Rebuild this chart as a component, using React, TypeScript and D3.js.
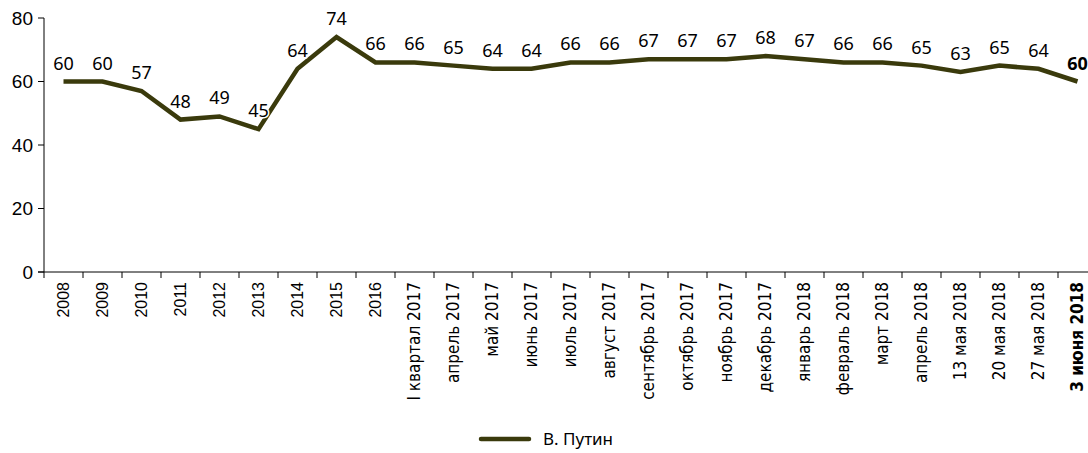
import React from "react";
import * as d3 from "d3";

const categories: string[] = [
  "2008", "2009", "2010", "2011", "2012", "2013", "2014", "2015", "2016",
  "I квартал 2017", "апрель 2017", "май 2017", "июнь 2017", "июль 2017", "август 2017",
  "сентябрь 2017", "октябрь 2017", "ноябрь 2017", "декабрь 2017",
  "январь 2018", "февраль 2018", "март 2018", "апрель 2018",
  "13 мая 2018", "20 мая 2018", "27 мая 2018", "3 июня 2018",
];
const values: number[] = [
  60, 60, 57, 48, 49, 45, 64, 74, 66,
  66, 65, 64, 64, 66, 66, 67, 67, 67, 68,
  67, 66, 66, 65, 63, 65, 64, 60,
];
const yTicks: number[] = [0, 20, 40, 60, 80];
const seriesName = "В. Путин";

const W = 1088;
const H = 453;
const left = 44;
const step = 39;
const top = 18;
const bottom = 272;
const lineColor = "#3a3a0c";
const condensed = "'Liberation Sans Narrow', 'DejaVu Sans Condensed', sans-serif";

export default function App() {
  const x = d3.scaleBand<string>().domain(categories).range([left, left + categories.length * step]).padding(0);
  const y = d3.scaleLinear().domain([0, 80]).range([bottom, top]);
  const cx = (c: string) => (x(c) as number) + x.bandwidth() / 2;
  const line = d3
    .line<number>()
    .x((_, i) => cx(categories[i]))
    .y((d) => y(d));
  const last = categories.length - 1;
  const isYear = (c: string) => /^\d{4}$/.test(c);

  return (
    <svg width={W} height={H} style={{ position: "absolute", left: 0, top: 0, background: "#fff" }}>
      {/* y axis */}
      <line x1={left} x2={left} y1={top} y2={bottom} stroke="#000" strokeWidth={1} />
      {yTicks.map((t) => (
        <g key={t}>
          <line x1={left - 6} x2={left} y1={y(t)} y2={y(t)} stroke="#000" strokeWidth={1} />
          <text x={33} y={y(t)} dy="0.35em" textAnchor="end" fontFamily="'Liberation Sans', Arial, sans-serif" fontSize={19} fill="#000">
            {t}
          </text>
        </g>
      ))}
      {/* x axis */}
      <line x1={left - 6} x2={W} y1={bottom} y2={bottom} stroke="#000" strokeWidth={1} />
      {categories.map((c) => (
        <line key={"t" + c} x1={x(c) as number} x2={x(c) as number} y1={bottom} y2={bottom + 6} stroke="#000" strokeWidth={1} />
      ))}
      {categories.map((c, i) => (
        <text
          key={"l" + c}
          transform={`translate(${cx(c)},${bottom + 10}) rotate(-90)`}
          textAnchor="end"
          dy="0.35em"
          fontFamily={isYear(c) ? "'Liberation Sans', Arial, sans-serif" : condensed}
          fontSize={isYear(c) ? 16 : 17}
          fontWeight={i === last ? "bold" : "normal"}
          fill="#000"
        >
          {c}
        </text>
      ))}
      {/* line */}
      <path d={line(values) || ""} fill="none" stroke={lineColor} strokeWidth={4.5} strokeLinejoin="miter" />
      {/* value labels */}
      {values.map((v, i) => (
        <text
          key={"v" + i}
          x={cx(categories[i])}
          y={y(v) - 12}
          textAnchor="middle"
          fontFamily="'Noto Sans', 'Open Sans', sans-serif"
          fontSize={18}
          fontWeight={i === last ? "bold" : "normal"}
          fill="#000"
          stroke="#fff"
          strokeWidth={3}
          paintOrder="stroke"
        >
          {v}
        </text>
      ))}
      {/* legend */}
      <line x1={481} x2={529} y1={439} y2={439} stroke={lineColor} strokeWidth={4.5} strokeLinecap="round" />
      <text x={543} y={439} dy="0.35em" fontFamily="'Noto Sans', sans-serif" fontSize={17} fill="#000">
        {seriesName}
      </text>
    </svg>
  );
}
